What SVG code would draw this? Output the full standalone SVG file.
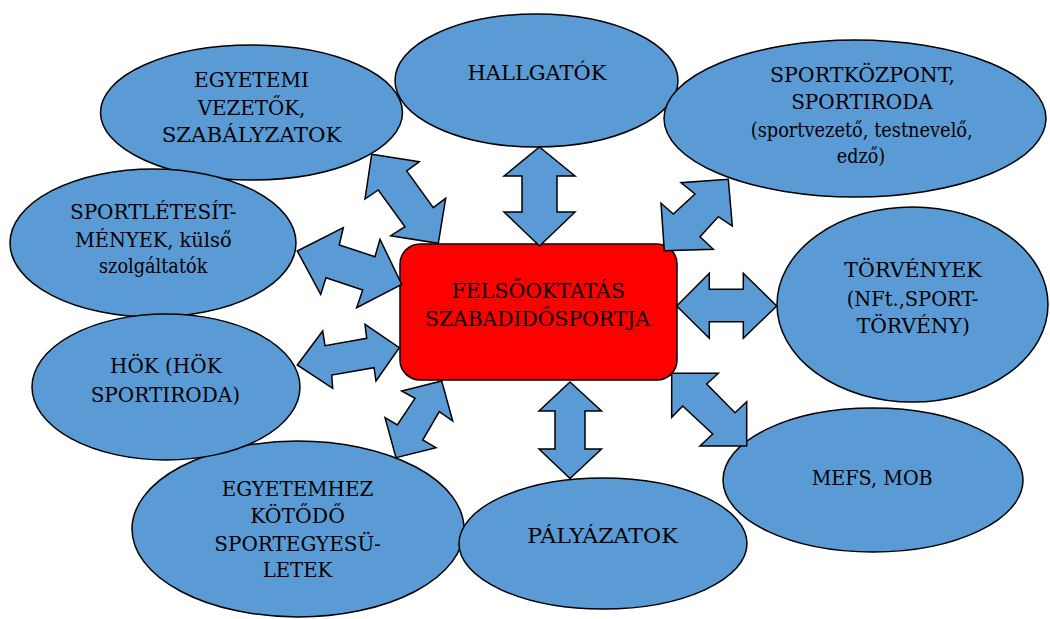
<svg xmlns="http://www.w3.org/2000/svg" width="1050" height="619" viewBox="0 0 1050 619">
<style>
.node ellipse{fill:#5B9BD5;stroke:#000;stroke-width:1.5}
.center rect{fill:#FF0000;stroke:#000;stroke-width:1.5}
text{font-size:21px;fill:#000;text-anchor:middle}
.arrows polygon{fill:#5B9BD5;stroke:#000;stroke-width:1.5;stroke-linejoin:miter}
</style>
<rect width="1050" height="619" fill="#fff"/>
<g font-family="DejaVu Serif, serif">
<g id="egyetemhez" class="node">
<ellipse cx="298" cy="529" rx="166" ry="88"/>
<text x="297.5" y="496" textLength="151.7" lengthAdjust="spacingAndGlyphs">EGYETEMHEZ</text>
<text x="297.5" y="523.3" textLength="94.7" lengthAdjust="spacingAndGlyphs">KÖTŐDŐ</text>
<text x="297.5" y="550.7" textLength="166.3" lengthAdjust="spacingAndGlyphs">SPORTEGYESÜ-</text>
<text x="297.5" y="577.3" textLength="69.7" lengthAdjust="spacingAndGlyphs">LETEK</text>
</g>
<g id="egyetemi" class="node">
<ellipse cx="251.5" cy="112.5" rx="151" ry="67.5"/>
<text x="251.5" y="86.7" textLength="115" lengthAdjust="spacingAndGlyphs">EGYETEMI</text>
<text x="251.5" y="115" textLength="107.7" lengthAdjust="spacingAndGlyphs">VEZETŐK,</text>
<text x="251.5" y="141.7" textLength="179.7" lengthAdjust="spacingAndGlyphs">SZABÁLYZATOK</text>
</g>
<g id="hallgatok" class="node">
<ellipse cx="536.5" cy="80.5" rx="141.5" ry="66.5"/>
<text x="537" y="80" textLength="139" lengthAdjust="spacingAndGlyphs">HALLGATÓK</text>
</g>
<g id="sportkozpont" class="node">
<ellipse cx="855" cy="118.5" rx="191" ry="78.5"/>
<text x="862.5" y="81.7" textLength="185" lengthAdjust="spacingAndGlyphs">SPORTKÖZPONT,</text>
<text x="862" y="109.3" textLength="141.7" lengthAdjust="spacingAndGlyphs">SPORTIRODA</text>
<text x="861.7" y="136.7" textLength="222" lengthAdjust="spacingAndGlyphs">(sportvezető, testnevelő,</text>
<text x="861" y="163.3" textLength="48.3" lengthAdjust="spacingAndGlyphs">edző)</text>
</g>
<g id="sportletesitmenyek" class="node">
<ellipse cx="153" cy="243" rx="143" ry="74"/>
<text x="153.3" y="219.3" textLength="166.7" lengthAdjust="spacingAndGlyphs">SPORTLÉTESÍT-</text>
<text x="153.3" y="247.3" textLength="156.7" lengthAdjust="spacingAndGlyphs">MÉNYEK, külső</text>
<text x="153.2" y="273.3" textLength="108.3" lengthAdjust="spacingAndGlyphs">szolgáltatók</text>
</g>
<g id="hok" class="node">
<ellipse cx="166" cy="387" rx="134" ry="73"/>
<text x="165.8" y="373.3" textLength="111.7" lengthAdjust="spacingAndGlyphs">HÖK (HÖK</text>
<text x="165.3" y="401.7" textLength="149.3" lengthAdjust="spacingAndGlyphs">SPORTIRODA)</text>
</g>
<g id="palyazatok" class="node">
<ellipse cx="603" cy="543.5" rx="144" ry="65.5"/>
<text x="602.5" y="543.3" textLength="150.3" lengthAdjust="spacingAndGlyphs">PÁLYÁZATOK</text>
</g>
<g id="mefs" class="node">
<ellipse cx="873" cy="480" rx="150" ry="72"/>
<text x="872.2" y="485" textLength="121" lengthAdjust="spacingAndGlyphs">MEFS, MOB</text>
</g>
<g id="torvenyek" class="node">
<ellipse cx="912.5" cy="304.5" rx="135.5" ry="97.5"/>
<text x="913" y="277.3" textLength="137.3" lengthAdjust="spacingAndGlyphs">TÖRVÉNYEK</text>
<text x="912.5" y="306" textLength="131.7" lengthAdjust="spacingAndGlyphs">(NFt.,SPORT-</text>
<text x="913.3" y="332.7" textLength="113.3" lengthAdjust="spacingAndGlyphs">TÖRVÉNY)</text>
</g>
<g id="felsooktatas" class="center">
<rect x="400" y="244" width="277" height="136" rx="20" ry="20"/>
<text x="538.3" y="297.7" textLength="173.3" lengthAdjust="spacingAndGlyphs">FELSŐOKTATÁS</text>
<text x="537.5" y="326" textLength="225" lengthAdjust="spacingAndGlyphs">SZABADIDŐSPORTJA</text>
</g>
</g>
<g id="connectors" class="arrows">
<polygon points="539.5,147 575,176 557,176 557,212 575,212 539.5,246 504,212 522,212 522,176 504,176"/>
<polygon points="570,382 601.5,411 585,411 585,449 601.5,449 570,478.5 539,449 555,449 555,411 539,411"/>
<polygon points="676.7,306 709.3,273.3 709.3,289.3 743.3,289.3 743.3,273.3 776.7,306 743.3,338.3 743.3,321.7 709.3,321.7 709.3,338.3"/>
<polygon points="728.3,179.3 732.3,226 718.3,216.7 700,236.7 713.3,249.3 664.3,250.7 661,203.3 673.3,214 695,194 681,182.7"/>
<polygon points="371.7,154.3 419.3,161.7 406.7,171 433.3,207.7 445.7,198.3 438.3,243.3 390.7,235.7 405,226.7 378.3,190 365,199"/>
<polygon points="297.3,251 343.3,227.7 339.3,245 375,256.7 380,239.3 401.7,284.3 356.7,307.7 362.7,290 326,277.7 320.7,294.3"/>
<polygon points="297.3,365 322.7,331 325,345.7 366.7,338.3 365,324.3 399.3,347.7 376,381 374,367.7 331.7,375 332.7,388.3"/>
<polygon points="441.7,381 452.7,421 439.3,411.7 422.7,440 436,447.7 396,457.7 385,417.7 397.3,425 415,398.3 401.7,391"/>
<polygon points="671.7,373.3 718.3,373.3 706.7,384 735,412.7 746.7,401.7 746.7,446 700,446 712.7,434 682.7,406 671.7,417.3"/>
</g>
</svg>
